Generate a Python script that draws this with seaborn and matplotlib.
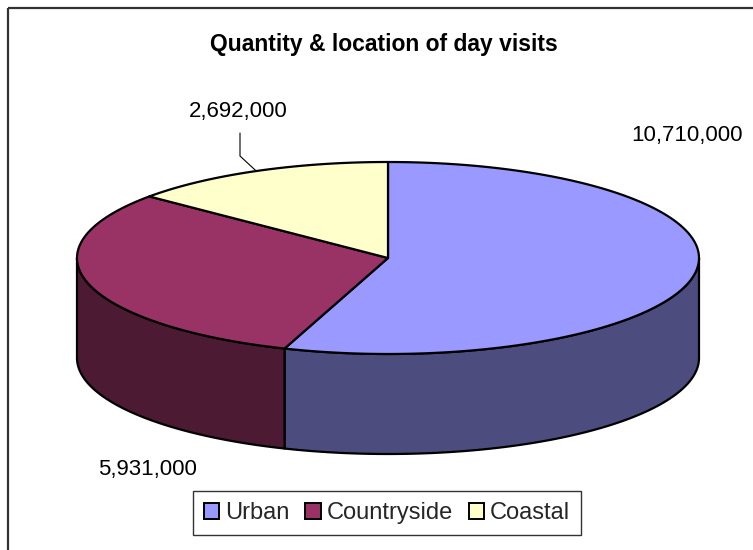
import numpy as np
import matplotlib
matplotlib.use("Agg")
import matplotlib.pyplot as plt
import seaborn as sns
from matplotlib.patches import Polygon, Rectangle

# Data
categories = ["Urban", "Countryside", "Coastal"]
visits = [10710000, 5931000, 2692000]
top_colors = ["#9999FF", "#993366", "#FFFFCC"]
side_colors = ["#4C4C7F", "#4D1A33", "#808066"]

# Layout (pixels)
CX, CY = 388, 258
RX, RY = 311, 96
DEPTH = 100
label_pos = [(687, 135), (148, 470), (238, 112)]

sns.set_theme(style="white")
plt.rcParams['font.family'] = ['Liberation Sans', 'DejaVu Sans']

fig = plt.figure(figsize=(7.53, 5.5), dpi=100)
ax = fig.add_axes([0, 0, 1, 1])
ax.set_xlim(0, 753)
ax.set_ylim(550, 0)
ax.axis("off")


def ellipse(t, dy=0):
    r = np.radians(t)
    return CX + RX * np.cos(r), CY - RY * np.sin(r) + dy


shares = np.array(visits) / np.sum(visits)
bounds = 90 - 360 * np.concatenate([[0], np.cumsum(shares)])

# side walls (only front half visible: angles -180..0)
for i in range(len(visits)):
    a0, a1 = bounds[i], bounds[i + 1]
    for k in (-1, 0, 1):
        lo = max(a1, -180 + 360 * k)
        hi = min(a0, 0 + 360 * k)
        if hi <= lo:
            continue
        t = np.linspace(hi, lo, 120)
        xt, yt = ellipse(t)
        xb, yb = ellipse(t[::-1], DEPTH)
        pts = np.column_stack([np.concatenate([xt, xb]), np.concatenate([yt, yb])])
        ax.add_patch(Polygon(pts, closed=True, facecolor=side_colors[i],
                             edgecolor="black", lw=1.6, joinstyle="round"))

# top faces
for i in range(len(visits)):
    t = np.linspace(bounds[i], bounds[i + 1], 150)
    x, y = ellipse(t)
    pts = np.column_stack([np.concatenate([[CX], x]), np.concatenate([[CY], y])])
    ax.add_patch(Polygon(pts, closed=True, facecolor=top_colors[i],
                         edgecolor="black", lw=1.6, joinstyle="round"))

# value labels
for i, v in enumerate(visits):
    lx, ly = label_pos[i]
    ax.text(lx, ly, f"{v:,}", ha="center", va="center", fontsize=16, color="black")

# leader line for the small slice
mid = (bounds[2] + bounds[3]) / 2
tx, ty = ellipse(mid)
lx, ly = label_pos[2]
ax.plot([lx + 2, lx + 2, tx], [ly + 21, ly + 44, ty], color="black", lw=0.8)

ax.text(384, 45, "Quantity & location of day visits", ha="center", va="center",
        fontsize=16.5, fontweight="bold", color="black")

# chart frame
ax.add_patch(Rectangle((8, 8), 900, 700, fill=False, edgecolor="#333333", lw=1.6))

handles = [Rectangle((0, 0), 1, 1, facecolor=c, edgecolor="black", lw=1.4) for c in top_colors]
leg = fig.legend(handles, categories, loc="center", bbox_to_anchor=(387 / 753, 1 - 513 / 550),
                 ncol=3, fontsize=17, frameon=True, fancybox=False, borderpad=0.45,
                 handlelength=0.65, handleheight=0.65, handletextpad=0.25, columnspacing=0.68,
                 borderaxespad=0)
leg.get_frame().set_edgecolor("black")
leg.get_frame().set_linewidth(1.0)

fig.savefig("out.png", dpi=100)
